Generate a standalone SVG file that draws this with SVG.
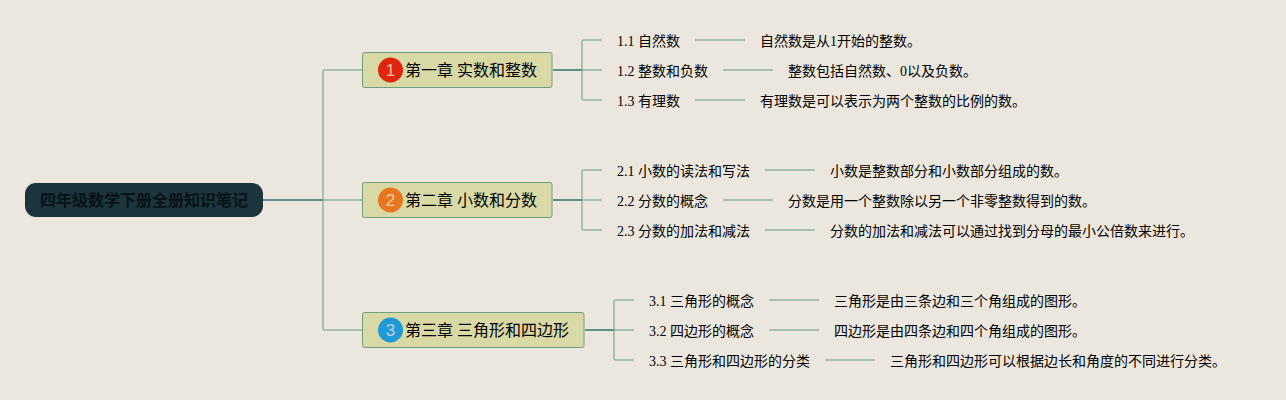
<svg xmlns="http://www.w3.org/2000/svg" width="1286" height="400" viewBox="0 0 1286 400">
<style>
text{font-family:"Liberation Serif","Noto Sans CJK SC",sans-serif;fill:#000}
.leaf{font-size:14px}
.ch{font-size:16px}
.root{font-size:16px;font-weight:bold;fill:#081215}
.chbox{fill:#d9d9a6;stroke:#6f9f85;stroke-width:1}
.trunk{fill:none;stroke:#8fb5a6;stroke-width:1.5}
.thick{fill:none;stroke:#5f8f88;stroke-width:2}
.num{font-family:"Liberation Sans",sans-serif;font-size:17px;fill:#f4e0d0;fill-opacity:.8;text-anchor:middle}
</style>
<rect width="1286" height="400" fill="#ebe7df"/>
<g id="connectors">
<path class="trunk" d="M263 200H362M323 200V71.500Q323 70 324.500 70H362M323 200V328.500Q323 330 324.500 330H362"/>
<path class="thick" d="M263 200H323"/>
<path class="trunk" d="M553 70H602M582 70V41.500Q582 40 583.500 40H602M582 70V98.500Q582 100 583.500 100H602"/>
<path class="thick" d="M553 70H582"/>
<path class="trunk" d="M553 200H602M582 200V171.500Q582 170 583.500 170H602M582 200V228.500Q582 230 583.500 230H602"/>
<path class="thick" d="M553 200H582"/>
<path class="trunk" d="M585 330H634M614 330V301.500Q614 300 615.500 300H634M614 330V358.500Q614 360 615.500 360H634"/>
<path class="thick" d="M585 330H614"/>
<path class="trunk" d="M695 40H745M723 70H773M695 100H745M765 170H815M723 200H773M765 230H815M769 300H819M769 330H819M825 360H875"/>
</g>
<g id="root"><rect x="25" y="183" width="238" height="34" rx="11" fill="#1b343d"/><text class="root" x="40" y="206">四年级数学下册全册知识笔记</text></g>
<g id="ch1"><rect class="chbox" x="362.500" y="52.500" width="189.500" height="35" rx="2"/><circle cx="390.500" cy="70" r="12.500" fill="#e0260e"/><text class="num" x="390.500" y="76">1</text><text class="ch" x="405" y="76">第一章 实数和整数</text></g>
<g id="ch2"><rect class="chbox" x="362.500" y="182.500" width="189.500" height="35" rx="2"/><circle cx="390.500" cy="200" r="12.500" fill="#e8761e"/><text class="num" x="390.500" y="206">2</text><text class="ch" x="405" y="206">第二章 小数和分数</text></g>
<g id="ch3"><rect class="chbox" x="362.500" y="312.500" width="221.500" height="35" rx="2"/><circle cx="390.500" cy="330" r="12.500" fill="#1f9ad8"/><text class="num" x="390.500" y="336">3</text><text class="ch" x="405" y="336">第三章 三角形和四边形</text></g>
<g id="t11"><text class="leaf" x="617" y="46">1.1 自然数</text></g>
<g id="d11"><text class="leaf" x="760" y="46">自然数是从1开始的整数。</text></g>
<g id="t12"><text class="leaf" x="617" y="76">1.2 整数和负数</text></g>
<g id="d12"><text class="leaf" x="788" y="76">整数包括自然数、0以及负数。</text></g>
<g id="t13"><text class="leaf" x="617" y="106">1.3 有理数</text></g>
<g id="d13"><text class="leaf" x="760" y="106">有理数是可以表示为两个整数的比例的数。</text></g>
<g id="t21"><text class="leaf" x="617" y="176">2.1 小数的读法和写法</text></g>
<g id="d21"><text class="leaf" x="830" y="176">小数是整数部分和小数部分组成的数。</text></g>
<g id="t22"><text class="leaf" x="617" y="206">2.2 分数的概念</text></g>
<g id="d22"><text class="leaf" x="788" y="206">分数是用一个整数除以另一个非零整数得到的数。</text></g>
<g id="t23"><text class="leaf" x="617" y="236">2.3 分数的加法和减法</text></g>
<g id="d23"><text class="leaf" x="830" y="236">分数的加法和减法可以通过找到分母的最小公倍数来进行。</text></g>
<g id="t31"><text class="leaf" x="649" y="306">3.1 三角形的概念</text></g>
<g id="d31"><text class="leaf" x="834" y="306">三角形是由三条边和三个角组成的图形。</text></g>
<g id="t32"><text class="leaf" x="649" y="336">3.2 四边形的概念</text></g>
<g id="d32"><text class="leaf" x="834" y="336">四边形是由四条边和四个角组成的图形。</text></g>
<g id="t33"><text class="leaf" x="649" y="366">3.3 三角形和四边形的分类</text></g>
<g id="d33"><text class="leaf" x="890" y="366">三角形和四边形可以根据边长和角度的不同进行分类。</text></g>
</svg>
